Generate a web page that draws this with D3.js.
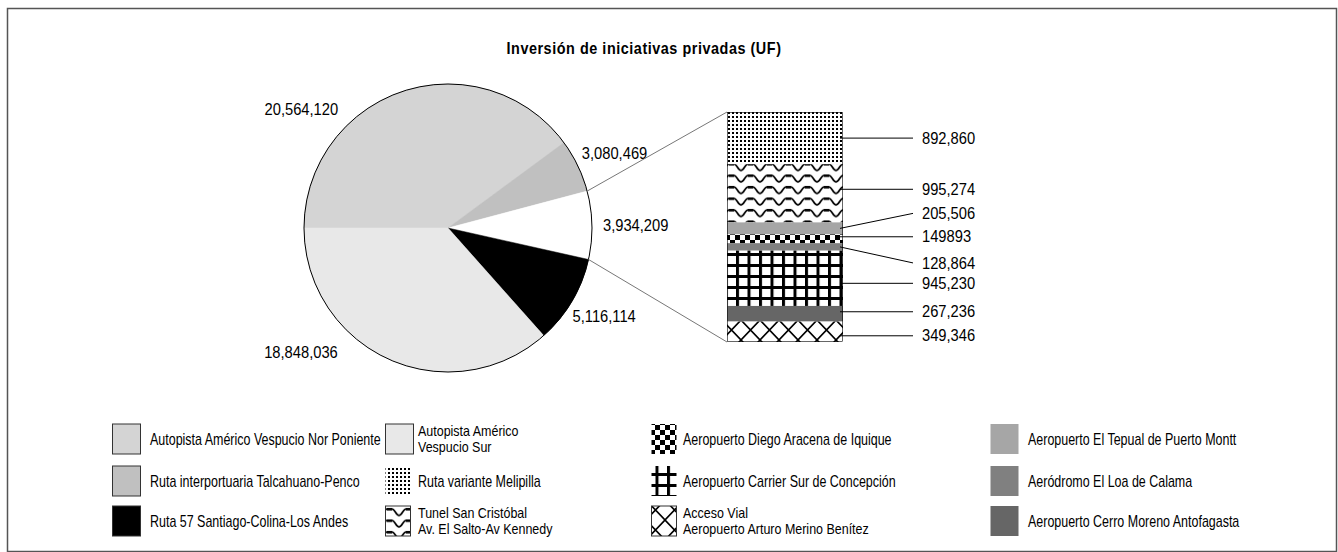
<!DOCTYPE html>
<html>
<head>
<meta charset="utf-8">
<script src="https://cdnjs.cloudflare.com/ajax/libs/d3/7.8.5/d3.min.js"></script>
<style>
  body { margin: 0; background: #fff; }
  text { font-family: "Liberation Sans", Arial, sans-serif; fill: #000; }
</style>
</head>
<body>
<div id="chart"></div>
<script>
// pie: big projects + the grouped rest (white slice)
var pieNames = ["Autopista Américo Vespucio Nor Poniente", "Ruta interportuaria Talcahuano-Penco",
  "Otras iniciativas", "Ruta 57 Santiago-Colina-Los Andes", "Autopista Américo Vespucio Sur"];
var pieValues = [20564120, 3080469, 3934209, 5116114, 18848036];
var pieLabels = ["20,564,120", "3,080,469", "3,934,209", "5,116,114", "18,848,036"];
var pieFills = ["#d4d4d4", "#c0c0c0", "#ffffff", "#000000", "#e8e8e8"];

// stacked column that breaks down the white slice
var barNames = ["Ruta variante Melipilla", "Tunel San Cristóbal Av. El Salto-Av Kennedy",
  "Aeropuerto El Tepual de Puerto Montt", "Aeropuerto Diego Aracena de Iquique",
  "Aeródromo El Loa de Calama", "Aeropuerto Carrier Sur de Concepción",
  "Aeropuerto Cerro Moreno Antofagasta", "Acceso Vial Aeropuerto Arturo Merino Benítez"];
var barValues = [892860, 995274, 205506, 149893, 128864, 945230, 267236, 349346];
var barLabels = ["892,860", "995,274", "205,506", "149893", "128,864", "945,230", "267,236", "349,346"];
var barFills = ["url(#dots)", "url(#wave)", "#a6a6a6", "url(#checker)", "#808080", "url(#grid)", "#666666", "url(#diamond)"];

// legend, column by column
var legendText = [
  ["Autopista Américo Vespucio Nor Poniente"], ["Ruta interportuaria Talcahuano-Penco"], ["Ruta 57 Santiago-Colina-Los Andes"],
  ["Autopista Américo", "Vespucio Sur"], ["Ruta variante Melipilla"], ["Tunel San Cristóbal", "Av. El Salto-Av Kennedy"],
  ["Aeropuerto Diego Aracena de Iquique"], ["Aeropuerto Carrier Sur de Concepción"], ["Acceso Vial", "Aeropuerto Arturo Merino Benítez"],
  ["Aeropuerto El Tepual de Puerto Montt"], ["Aeródromo El Loa de Calama"], ["Aeropuerto Cerro Moreno Antofagasta"]
];
var legendFills = ["#d4d4d4", "#c0c0c0", "#000000", "#e8e8e8", "url(#dots)", "url(#wave)",
  "url(#checker)", "url(#grid)", "url(#diamond)", "#a6a6a6", "#808080", "#666666"];

var title = "Inversión de iniciativas privadas (UF)";

// layout
var cx = 448, cy = 228, radius = 144;
var pieLabelAngle = [-42.7, 61, 89, 125.5, 221.6];
var pieLabelRadius = [162, 153, 155, 153, 166];
var barX = 727, barW = 116, barTop = 112, barBottom = 342;
var labelShift = [0, -4, -15, -2, 16, 5, -2, 4];
var legendColX = [112, 385, 651, 990];
var legendTextX = [150, 418, 683, 1028];
var legendRowY = [439, 481, 521];
var numScale = 0.92, legScale = 0.78; // condensed look (no narrow font installed)
var boxedSwatch = [true, true, true, true, false, true, false, false, true, false, false, false];

var svg = d3.select("#chart")
  .append("svg")
  .attr("width", 1338)
  .attr("height", 552);

function squeeze(x, y, s) {
  return "translate(" + x + "," + y + ") scale(" + s + ",1)";
}

// fill patterns (excel style)
var defs = svg.append("defs");

var p = defs.append("pattern").attr("id", "dots").attr("patternUnits", "userSpaceOnUse")
  .attr("width", 4).attr("height", 4);
p.append("rect").attr("width", 4).attr("height", 4).attr("fill", "#fff");
p.append("rect").attr("width", 2).attr("height", 2).attr("fill", "#000");

p = defs.append("pattern").attr("id", "wave").attr("patternUnits", "userSpaceOnUse")
  .attr("width", 19).attr("height", 11.5);
p.append("rect").attr("width", 19).attr("height", 11.5).attr("fill", "#fff");
p.append("path").attr("d", "M0,9.5 C3,9.5 4,3 7,3 L12,3 C15,3 16,9.5 19,9.5")
  .attr("fill", "none").attr("stroke", "#000").attr("stroke-width", 1.7);
p.append("rect").attr("x", 7).attr("y", 2).attr("width", 5).attr("height", 2.5).attr("fill", "#000");

p = defs.append("pattern").attr("id", "checker").attr("patternUnits", "userSpaceOnUse")
  .attr("width", 10).attr("height", 10);
p.append("rect").attr("width", 10).attr("height", 10).attr("fill", "#fff");
p.append("rect").attr("width", 5).attr("height", 5).attr("fill", "#000");
p.append("rect").attr("x", 5).attr("y", 5).attr("width", 5).attr("height", 5).attr("fill", "#000");

p = defs.append("pattern").attr("id", "grid").attr("patternUnits", "userSpaceOnUse")
  .attr("width", 11.5).attr("height", 11);
p.append("rect").attr("width", 11.5).attr("height", 11).attr("fill", "#000");
p.append("rect").attr("x", 3).attr("y", 3).attr("width", 8.5).attr("height", 8).attr("fill", "#fff");

p = defs.append("pattern").attr("id", "diamond").attr("patternUnits", "userSpaceOnUse")
  .attr("width", 19).attr("height", 20);
p.append("rect").attr("width", 19).attr("height", 20).attr("fill", "#fff");
p.append("path").attr("d", "M0,0 L19,20 M19,0 L0,20")
  .attr("stroke", "#000").attr("stroke-width", 1.6);

// outer frame
svg.append("rect")
  .attr("x", 7.5).attr("y", 8.5)
  .attr("width", 1329).attr("height", 543)
  .attr("fill", "none")
  .attr("stroke", "#555")
  .attr("stroke-width", 1.5);

svg.append("text")
  .attr("transform", squeeze(644, 54, 0.9))
  .attr("text-anchor", "middle")
  .style("font-size", "16px")
  .style("font-weight", "bold")
  .style("letter-spacing", "0.6px")
  .text(title);

// pie
var pie = d3.pie().sort(null)
  .startAngle(-Math.PI / 2)
  .endAngle(Math.PI * 3 / 2);
var arcs = pie(pieValues);
var arc = d3.arc().innerRadius(0).outerRadius(radius);

var pieG = svg.append("g").attr("transform", "translate(" + cx + "," + cy + ")");
pieG.selectAll(".slice")
  .data(arcs)
  .enter().append("path")
  .attr("class", "slice")
  .attr("d", arc)
  .attr("fill", function (d, i) { return pieFills[i]; })
  .attr("stroke", function (d, i) { return pieFills[i]; })
  .attr("stroke-width", 0.5);
pieG.append("circle")
  .attr("r", radius)
  .attr("fill", "none")
  .attr("stroke", "#000")
  .attr("stroke-width", 1);

pieG.selectAll(".plabel")
  .data(arcs)
  .enter().append("text")
  .attr("class", "plabel")
  .attr("transform", function (d, i) {
    var a = pieLabelAngle[i] * Math.PI / 180;
    return squeeze(pieLabelRadius[i] * Math.sin(a), -pieLabelRadius[i] * Math.cos(a), numScale);
  })
  .attr("dy", "0.35em")
  .attr("text-anchor", function (d, i) { return Math.sin(pieLabelAngle[i] * Math.PI / 180) < 0 ? "end" : "start"; })
  .style("font-size", "16px")
  .text(function (d, i) { return pieLabels[i]; });

// stacked column
var y = d3.scaleLinear()
  .domain([0, d3.sum(barValues)])
  .range([barTop, barBottom]);
var ends = d3.cumsum(barValues);
var segs = barValues.map(function (v, i) {
  return { y0: ends[i] - v, y1: ends[i], i: i };
});

svg.selectAll(".seg")
  .data(segs)
  .enter().append("rect")
  .attr("class", "seg")
  .attr("x", barX)
  .attr("y", function (d) { return y(d.y0); })
  .attr("width", barW)
  .attr("height", function (d) { return y(d.y1) - y(d.y0); })
  .attr("fill", function (d) { return barFills[d.i]; });
svg.append("rect")
  .attr("x", barX + 0.5).attr("y", barTop + 0.5)
  .attr("width", barW - 1).attr("height", barBottom - barTop - 1)
  .attr("fill", "none").attr("stroke", "#000").attr("stroke-width", 0.6);

// connector lines from the white slice to the column
var white = arcs[2];
function edgePoint(a) {
  return [cx + radius * Math.sin(a), cy - radius * Math.cos(a)];
}
var pTop = edgePoint(white.startAngle), pBot = edgePoint(white.endAngle);
svg.append("line")
  .attr("x1", pTop[0]).attr("y1", pTop[1]).attr("x2", barX).attr("y2", barTop)
  .attr("stroke", "#777").attr("stroke-width", 1);
svg.append("line")
  .attr("x1", pBot[0]).attr("y1", pBot[1]).attr("x2", barX).attr("y2", barBottom)
  .attr("stroke", "#777").attr("stroke-width", 1);

// leader lines + labels
var leaders = svg.selectAll(".lead")
  .data(segs)
  .enter().append("g")
  .attr("class", "lead");
leaders.append("line")
  .attr("x1", barX + barW - 3)
  .attr("y1", function (d) {
    var mid = (y(d.y0) + y(d.y1)) / 2;
    return Math.abs(labelShift[d.i]) > 8 ? mid : mid + labelShift[d.i];
  })
  .attr("x2", 913)
  .attr("y2", function (d) { return (y(d.y0) + y(d.y1)) / 2 + labelShift[d.i]; })
  .attr("stroke", "#000")
  .attr("stroke-width", 1);
leaders.append("text")
  .attr("transform", function (d) {
    return squeeze(922, (y(d.y0) + y(d.y1)) / 2 + labelShift[d.i], numScale);
  })
  .attr("dy", "0.35em")
  .style("font-size", "16px")
  .text(function (d) { return barLabels[d.i]; });

// legend
var legend = svg.selectAll(".leg")
  .data(legendText)
  .enter().append("g")
  .attr("class", "leg");
legend.append("rect")
  .attr("x", function (d, i) { return legendColX[Math.floor(i / 3)] + 0.5; })
  .attr("y", function (d, i) { return legendRowY[i % 3] - 15; })
  .attr("width", function (d, i) { return i >= 4 && i < 9 ? 25 : 28; })
  .attr("height", 30)
  .attr("fill", function (d, i) { return legendFills[i]; })
  .attr("stroke", function (d, i) { return boxedSwatch[i] ? "#333" : "none"; })
  .attr("stroke-width", 1);
// one text per line; two-line entries get a slightly smaller size so they stay apart
legend.each(function (d, i) {
  var g = d3.select(this);
  var n = d.length;
  var fs = n > 1 ? 14 : 16;
  d.forEach(function (line, k) {
    g.append("text")
      .attr("transform", squeeze(legendTextX[Math.floor(i / 3)], legendRowY[i % 3] + (k - (n - 1) / 2) * 16, legScale * 16 / fs))
      .attr("dy", "0.35em")
      .style("font-size", fs + "px")
      .text(line);
  });
});
</script>
</body>
</html>
